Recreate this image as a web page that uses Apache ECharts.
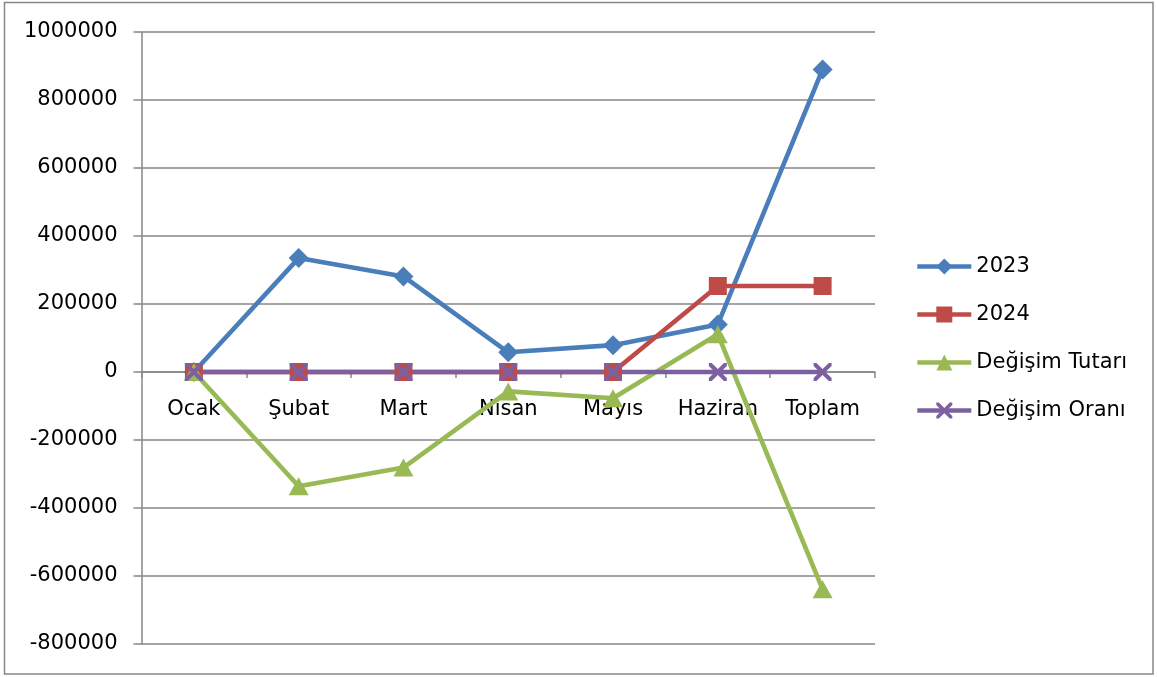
<!DOCTYPE html>
<html>
<head>
<meta charset="utf-8">
<script src="https://cdn.jsdelivr.net/npm/echarts@6/dist/echarts.min.js"></script>
<style>
html,body{margin:0;padding:0;background:#fff;}
#chart{width:1157px;height:677px;}
</style>
</head>
<body>
<div id="chart"></div>
<script>
const categories = ['Ocak', 'Şubat', 'Mart', 'Nisan', 'Mayıs', 'Haziran', 'Toplam'];
const values2023 = [0, 335000, 281000, 58000, 79000, 140000, 890000];
const values2024 = [0, 0, 0, 0, 0, 253000, 253000];
const degisimTutari = [0, -336000, -281000, -57000, -77000, 111000, -639000];
const degisimOrani = [0, -1, -1, -1, -1, 0.81, -0.72];
const yTicks = [-800000, -600000, -400000, -200000, 0, 200000, 400000, 600000, 800000, 1000000];

const FONT = 'DejaVu Sans';
const GRAY = '#878787';
const xPath = 'path://M0,0L1.6,0L10,8.4L10,10L8.4,10L0,1.6Z M8.4,0L10,0L10,1.6L1.6,10L0,10L0,8.4Z';

const GRID_TOP = 32, GRID_BOTTOM = 33, H = 677;
const plotH = H - GRID_TOP - GRID_BOTTOM;
const yMin = yTicks[0], yMax = yTicks[yTicks.length - 1];
const zeroFromBottom = plotH * (0 - yMin) / (yMax - yMin);

const chart = echarts.init(document.getElementById('chart'), null, {renderer: 'canvas'});

function lineSeries(name, data, color, symbol, size) {
  return {
    name: name,
    type: 'line',
    data: data,
    symbol: symbol,
    symbolSize: size,
    showAllSymbol: true,
    lineStyle: {color: color, width: 4.6},
    itemStyle: {color: color},
    emphasis: {disabled: true},
    animation: false
  };
}

const option = {
  animation: false,
  textStyle: {fontFamily: FONT},
  graphic: [{
    type: 'rect',
    shape: {x: 4.5, y: 2.5, width: 1148.5, height: 671.5},
    style: {fill: 'none', stroke: GRAY, lineWidth: 1.5},
    silent: true,
    z: -1
  }],
  grid: {left: 141.5, right: 282, top: GRID_TOP, bottom: GRID_BOTTOM, containLabel: false, outerBoundsMode: 'none'},
  legend: {
    orient: 'vertical',
    left: 915,
    top: 256,
    padding: 0,
    itemWidth: 54,
    itemHeight: 20,
    itemGap: 27,
    lineStyle: {width: 4.6},
    textStyle: {fontFamily: FONT, fontSize: 21, color: '#000'},
    data: ['2023', '2024', 'Değişim Tutarı', 'Değişim Oranı']
  },
  xAxis: {
    type: 'category',
    data: categories,
    boundaryGap: true,
    position: 'bottom',
    offset: -zeroFromBottom,
    axisLine: {show: true, onZero: false, lineStyle: {color: GRAY, width: 1.5}},
    axisTick: {show: true, length: 6, interval: 0, lineStyle: {color: GRAY, width: 1.5}},
    axisLabel: {fontFamily: FONT, fontSize: 21, color: '#000', margin: 27, interval: 0},
    splitLine: {show: false}
  },
  yAxis: {
    type: 'value',
    min: yMin,
    max: yMax,
    interval: yTicks[1] - yTicks[0],
    axisLine: {show: true, lineStyle: {color: GRAY, width: 1.5}},
    axisTick: {show: true, length: 8, lineStyle: {color: GRAY, width: 1.5}},
    axisLabel: {fontFamily: FONT, fontSize: 21, color: '#000', margin: 24, padding: [4, 0, 0, 0], formatter: v => String(v)},
    splitLine: {show: true, lineStyle: {color: GRAY, width: 1.5}}
  },
  series: [
    lineSeries('2023', values2023, '#4a7ebb', 'diamond', [20, 20]),
    lineSeries('2024', values2024, '#be4b48', 'rect', 18),
    lineSeries('Değişim Tutarı', degisimTutari, '#98b954', 'triangle', [20, 18]),
    lineSeries('Değişim Oranı', degisimOrani, '#7d60a0', xPath, 18)
  ]
};
chart.setOption(option);
</script>
</body>
</html>
